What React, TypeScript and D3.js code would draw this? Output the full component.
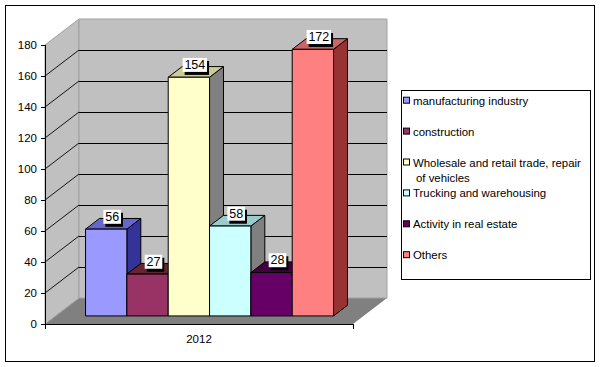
import * as d3 from "d3";

const categories = ["2012"];
const seriesNames = [
  "manufacturing industry",
  "construction",
  "Wholesale and retail trade, repair of vehicles",
  "Trucking and warehousing",
  "Activity in real estate",
  "Others",
];
const values = [56, 27, 154, 58, 28, 172];
const yTicks = [0, 20, 40, 60, 80, 100, 120, 140, 160, 180];

const FRONT = ["#9999FF", "#993366", "#FFFFCC", "#CCFFFF", "#660066", "#FF8080"];
const TOP = ["#6666CC", "#66262E", "#CCCC99", "#99CCCC", "#400040", "#CC6666"];
const SIDE = ["#333399", "#4D1A33", "#808080", "#808080", "#330033", "#993333"];

const W = 600;
const H = 367;
// plot front plane and depth offset of the 3D box
const PX0 = 45;
const PX1 = 353;
const DX = 34;
const DY = -26;
// bar placement within depth (fraction of wall depth)
const BAR_Z0 = 0.31;
const BAR_Z1 = 0.72;
const FONT = "Arial, 'Liberation Sans', sans-serif";

function wrap(label: string, max: number) {
  const words = label.split(" ");
  const lines: string[] = [];
  let cur = "";
  for (const w of words) {
    const next = cur ? cur + " " + w : w;
    if (next.length > max && cur) {
      lines.push(cur);
      cur = w;
    } else cur = next;
  }
  if (cur) lines.push(cur);
  return lines;
}

export default function App() {
  const y = d3.scaleLinear().domain([0, 180]).range([324, 45]);
  const x0 = d3.scaleBand<string>().domain(categories).range([PX0, PX1]);
  const x1 = d3
    .scaleBand<string>()
    .domain(seriesNames)
    .range([30, x0.bandwidth() - 30]);

  const y0 = y(0);
  const yTop = y(180);
  const pts = (p: [number, number][]) => p.map((d) => d.join(",")).join(" ");

  const bdx0 = DX * BAR_Z0;
  const bdy0 = DY * BAR_Z0;
  const bdx = DX * (BAR_Z1 - BAR_Z0);
  const bdy = DY * (BAR_Z1 - BAR_Z0);
  const bw = x1.bandwidth();

  const bars = seriesNames.map((s, i) => {
    const xl = (x0("2012") ?? 0) + (x1(s) ?? 0) + bdx0;
    const xr = xl + bw;
    const yb = y0 + bdy0;
    const yt = y(values[i]) + bdy0;
    return { s, i, xl, xr, yb, yt };
  });

  return (
    <div style={{ position: "absolute", left: 0, top: 0 }}>
      <svg width={W} height={H} style={{ display: "block", background: "#fff" }} fontFamily={FONT}>
        <rect x={5.5} y={5.5} width={589} height={356} fill="#fff" stroke="#000" />

        {/* floor */}
        <polygon
          points={pts([[PX0, y0], [PX1, y0], [PX1 + DX, y0 + DY], [PX0 + DX, y0 + DY]])}
          fill="#808080"
        />
        {/* side wall */}
        <polygon
          points={pts([[PX0, y0], [PX0, yTop], [PX0 + DX, yTop + DY], [PX0 + DX, y0 + DY]])}
          fill="#C0C0C0"
          stroke="#A0A0A0"
        />
        {/* back wall */}
        <polygon
          points={pts([[PX0 + DX, yTop + DY], [PX1 + DX, yTop + DY], [PX1 + DX, y0 + DY], [PX0 + DX, y0 + DY]])}
          fill="#C0C0C0"
          stroke="#A0A0A0"
        />

        {/* gridlines */}
        {yTicks.filter((t) => t > 0 && t < 180).map((t) => (
          <g key={t} stroke="#000" strokeWidth={1}>
            <line x1={PX0 + DX} x2={PX1 + DX} y1={Math.round(y(t) + DY) + 0.5} y2={Math.round(y(t) + DY) + 0.5} />
            <line x1={PX0} y1={y(t)} x2={PX0 + DX} y2={y(t) + DY} strokeWidth={0.9} />
          </g>
        ))}

        {/* bars */}
        {bars.map((b) => (
          <g key={b.s} stroke="#000" strokeWidth={1} strokeLinejoin="round">
            <polygon
              points={pts([[b.xr, b.yb], [b.xr, b.yt], [b.xr + bdx, b.yt + bdy], [b.xr + bdx, b.yb + bdy]])}
              fill={SIDE[b.i]}
            />
            <polygon
              points={pts([[b.xl, b.yt], [b.xr, b.yt], [b.xr + bdx, b.yt + bdy], [b.xl + bdx, b.yt + bdy]])}
              fill={TOP[b.i]}
            />
            <rect x={b.xl} y={b.yt} width={bw} height={b.yb - b.yt} fill={FRONT[b.i]} />
          </g>
        ))}

        {/* y axis */}
        <line x1={PX0 + 0.5} x2={PX0 + 0.5} y1={yTop} y2={y0} stroke="#000" />
        {yTicks.map((t) => (
          <g key={t}>
            <line x1={PX0 - 4} x2={PX0} y1={Math.round(y(t)) + 0.5} y2={Math.round(y(t)) + 0.5} stroke="#000" />
            <text x={37} y={y(t) + 4} fontSize={11.5} textAnchor="end" fill="#000">
              {t}
            </text>
          </g>
        ))}

        {/* x axis */}
        <line x1={PX0} x2={PX1} y1={y0 + 0.5} y2={y0 + 0.5} stroke="#000" />
        <line x1={PX0 + 0.5} x2={PX0 + 0.5} y1={y0} y2={y0 + 5} stroke="#000" />
        <line x1={PX1 + 0.5} x2={PX1 + 0.5} y1={y0} y2={y0 + 5} stroke="#000" />
        {categories.map((c) => (
          <text
            key={c}
            x={(x0(c) ?? 0) + x0.bandwidth() / 2}
            y={343}
            fontSize={11.5}
            textAnchor="middle"
            fill="#000"
          >
            {c}
          </text>
        ))}

        {/* data labels */}
        {bars.map((b) => {
          const cx = b.xl + bw / 2 + bdx / 2 - 1;
          const cy = b.yt + bdy / 2;
          const txt = String(values[b.i]);
          const lw = txt.length * 6.8 + 4;
          return (
            <g key={"l" + b.s}>
              <rect x={cx - lw / 2 + 2} y={cy - 14 + 3} width={lw} height={14} fill="#000" />
              <rect x={cx - lw / 2} y={cy - 14} width={lw} height={14} fill="#fff" />
              <text x={cx} y={cy - 3} fontSize={12.5} textAnchor="middle" fill="#000">
                {txt}
              </text>
            </g>
          );
        })}

        {/* legend */}
        <rect x={401.5} y={90.5} width={189} height={189} fill="#fff" stroke="#000" />
        {seriesNames.map((s, i) => {
          const cy = 100.7 + i * 30.9;
          const lines = wrap(s, 34);
          return (
            <g key={"lg" + s}>
              <rect x={403.5} y={cy - 3.5} width={6} height={6} fill={FRONT[i]} stroke="#000" />
              {lines.map((ln, k) => (
                <text key={k} x={k === 0 ? 413 : 416} y={cy + 4 + k * 15} fontSize={11.4} fill="#000">
                  {ln}
                </text>
              ))}
            </g>
          );
        })}
      </svg>
    </div>
  );
}
